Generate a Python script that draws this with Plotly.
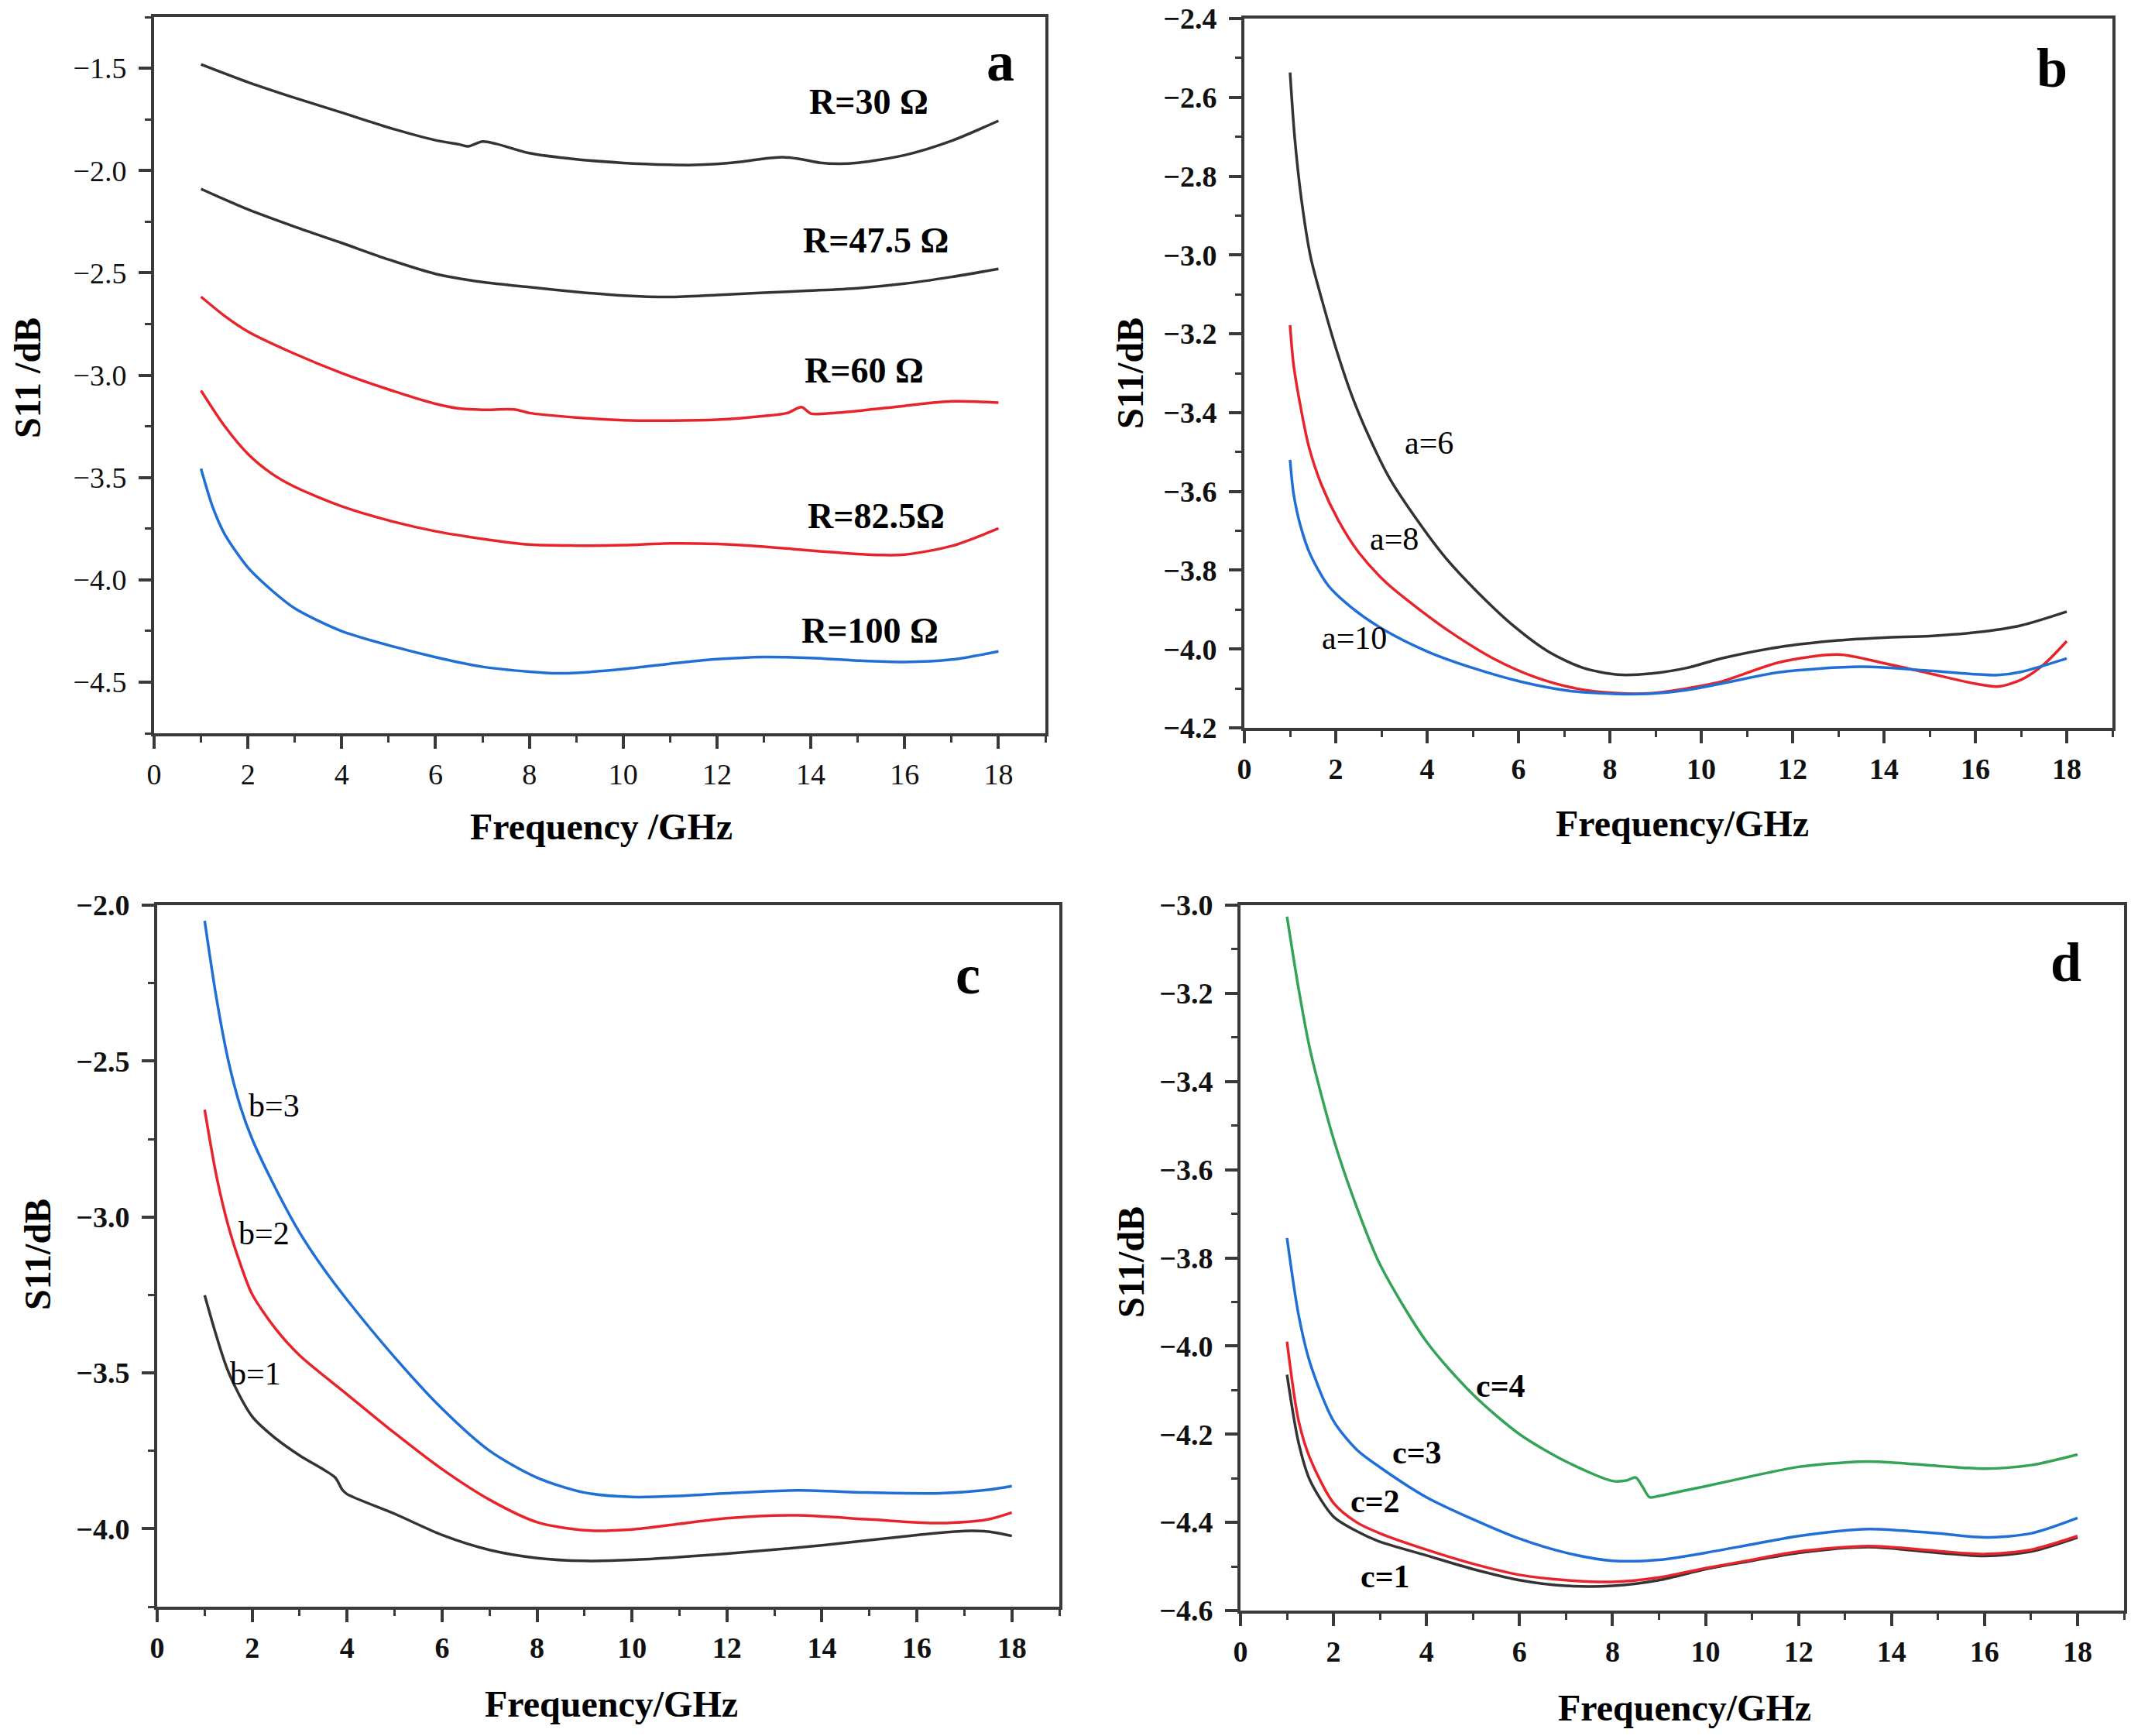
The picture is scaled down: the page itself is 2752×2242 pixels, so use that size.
import plotly.graph_objects as go

# ---------------- Panel a data ----------------
r30_x = [1, 2, 3, 4, 5, 6, 6.5, 6.7, 7.0, 7.3, 8, 9, 10, 11, 11.5, 12, 12.5, 13, 13.4, 13.8, 14.2, 14.6, 15, 16, 17, 18]
r30_y = [-1.481, -1.568, -1.645, -1.717, -1.79, -1.852, -1.872, -1.882, -1.858, -1.87, -1.915, -1.945, -1.963,
         -1.972, -1.973, -1.968, -1.958, -1.942, -1.935, -1.945, -1.962, -1.967, -1.962, -1.925, -1.855, -1.757]
r47_x = [1, 2, 3, 4, 5, 6, 7, 8, 9, 10, 11, 12, 13, 14, 15, 16, 17, 18]
r47_y = [-2.09, -2.19, -2.275, -2.354, -2.435, -2.505, -2.545, -2.57, -2.593, -2.611, -2.618, -2.608, -2.597,
         -2.587, -2.575, -2.553, -2.52, -2.481]
r60_x = [1, 1.5, 2, 3, 4, 5, 6, 6.5, 7, 7.7, 8, 9, 10, 11, 12, 13, 13.5, 13.8, 14.0, 14.3, 15, 16, 17, 18]
r60_y = [-2.617, -2.71, -2.787, -2.896, -2.99, -3.07, -3.14, -3.163, -3.169, -3.168, -3.185, -3.207, -3.22,
         -3.222, -3.218, -3.20, -3.185, -3.156, -3.188, -3.188, -3.175, -3.15, -3.128, -3.134]
r82_x = [1, 1.5, 2, 2.5, 3, 4, 5, 6, 7, 8, 9, 10, 11, 12, 13, 14, 15, 15.5, 16, 17, 18]
r82_y = [-3.075, -3.248, -3.385, -3.48, -3.546, -3.641, -3.71, -3.763, -3.80, -3.828, -3.833, -3.831, -3.822,
         -3.825, -3.838, -3.857, -3.874, -3.879, -3.877, -3.835, -3.749]
r100_x = [1, 1.25, 1.5, 2, 2.5, 3, 4, 5, 6, 7, 8, 8.6, 9, 10, 11, 12, 13, 14, 15, 16, 17, 18]
r100_y = [-3.457, -3.645, -3.775, -3.94, -4.05, -4.14, -4.251, -4.32, -4.378, -4.425, -4.449, -4.457, -4.455,
          -4.436, -4.41, -4.388, -4.377, -4.382, -4.395, -4.402, -4.39, -4.35]

# ---------------- Panel b data ----------------
a6_x = [1, 1.1, 1.25, 1.45, 1.7, 2.0, 2.36, 2.74, 3.19, 3.79, 4.4, 5.15, 5.91, 6.66, 7.42, 8.17, 8.92,
        9.68, 10.43, 11.7, 13, 14, 15, 16, 17, 18]
a6_y = [-2.537, -2.70, -2.86, -3.005, -3.115, -3.235, -3.359, -3.464, -3.569, -3.674, -3.768, -3.861,
        -3.943, -4.007, -4.048, -4.065, -4.062, -4.048, -4.024, -3.995, -3.978, -3.971, -3.967, -3.958, -3.94, -3.905]
a8_x = [1, 1.075, 1.225, 1.415, 1.68, 2.06, 2.51, 3.11, 3.79, 4.55, 5.45, 6.36, 7.26, 8.17, 8.92, 9.68, 10.43,
        11.7, 13, 14, 15, 16, 16.5, 17, 17.5, 18]
a8_y = [-3.178, -3.277, -3.382, -3.488, -3.581, -3.674, -3.756, -3.832, -3.896, -3.96, -4.024, -4.071, -4.10,
        -4.112, -4.112, -4.10, -4.083, -4.034, -4.014, -4.036, -4.062, -4.088, -4.095, -4.078, -4.039, -3.98]
a10_x = [1, 1.075, 1.225, 1.45, 1.83, 2.36, 3.11, 4.02, 5.0, 6.06, 7.11, 8.17, 8.92, 9.68, 10.43, 11.7, 13.5,
         15, 16, 16.5, 17, 18]
a10_y = [-3.52, -3.604, -3.686, -3.762, -3.838, -3.896, -3.955, -4.007, -4.048, -4.083, -4.106, -4.114, -4.113,
         -4.104, -4.088, -4.059, -4.045, -4.055, -4.064, -4.066, -4.058, -4.024]

# ---------------- Panel c data ----------------
b3_x = [1, 1.25, 1.5, 1.75, 2, 2.5, 3, 3.5, 4, 5, 6, 7, 8, 9, 10, 11, 12, 13.5, 15, 16.5, 17.5, 18]
b3_y = [-2.05, -2.30, -2.50, -2.645, -2.75, -2.91, -3.05, -3.165, -3.266, -3.45, -3.615, -3.75, -3.836, -3.884,
        -3.898, -3.895, -3.886, -3.877, -3.884, -3.886, -3.875, -3.863]
b2_x = [1, 1.25, 1.5, 1.75, 2, 2.5, 3, 4, 5, 6, 7, 8, 9, 10, 11, 12, 13.5, 15, 16.5, 17.5, 18]
b2_y = [-2.656, -2.87, -3.03, -3.15, -3.248, -3.36, -3.444, -3.569, -3.693, -3.809, -3.907, -3.979, -4.005,
        -4.002, -3.984, -3.966, -3.957, -3.97, -3.982, -3.97, -3.948]
b1_x = [1, 1.5, 2, 2.5, 3, 3.5, 3.75, 3.9, 4, 5, 6, 7, 8, 9, 10, 12, 14, 16, 17, 17.5, 18]
b1_y = [-3.251, -3.497, -3.64, -3.711, -3.765, -3.81, -3.836, -3.875, -3.889, -3.952, -4.02, -4.068, -4.094,
        -4.103, -4.1, -4.08, -4.053, -4.02, -4.007, -4.009, -4.023]

# ---------------- Panel d data ----------------
c4_x = [1, 1.25, 1.5, 2, 2.5, 3, 4, 5, 6, 7, 8, 8.3, 8.5, 8.65, 8.8, 9, 10, 11, 12, 13, 13.5, 14, 15, 16, 17, 18]
c4_y = [-3.026, -3.19, -3.33, -3.53, -3.685, -3.815, -3.99, -4.11, -4.2, -4.262, -4.306, -4.305, -4.298, -4.32,
        -4.343, -4.34, -4.318, -4.295, -4.274, -4.264, -4.262, -4.264, -4.272, -4.278, -4.27, -4.246]
c3_x = [1, 1.25, 1.5, 2, 2.5, 3, 4, 5, 6, 7, 8, 9, 10, 11, 12, 13.5, 15, 16, 17, 18]
c3_y = [-3.755, -3.93, -4.04, -4.17, -4.235, -4.275, -4.343, -4.393, -4.437, -4.469, -4.487, -4.485, -4.469,
        -4.45, -4.431, -4.415, -4.425, -4.434, -4.425, -4.39]
c2_x = [1, 1.25, 1.5, 2, 2.5, 3, 4, 5, 6, 7, 8, 9, 10, 11, 12, 13.5, 15, 16, 17, 18]
c2_y = [-3.99, -4.17, -4.256, -4.356, -4.40, -4.425, -4.462, -4.494, -4.519, -4.531, -4.535, -4.525, -4.504,
        -4.485, -4.466, -4.454, -4.465, -4.472, -4.462, -4.431]
c1_x = [1, 1.25, 1.5, 2, 2.5, 3, 4, 5, 6, 7, 8, 9, 10, 11, 12, 13.5, 15, 16, 17, 18]
c1_y = [-4.065, -4.22, -4.306, -4.387, -4.42, -4.444, -4.475, -4.506, -4.531, -4.544, -4.544, -4.531, -4.506,
        -4.487, -4.469, -4.456, -4.469, -4.476, -4.466, -4.434]

x_ticks = [0, 2, 4, 6, 8, 10, 12, 14, 16, 18]

BLACK = "#333333"
RED = "#e8242b"
BLUE = "#1f6fd6"
GREEN = "#33a456"
AXC = "#3a3a3a"
FONT = "Liberation Serif"
W, H = 2752, 2242

fig = go.Figure()


def add(x, y, color, k):
    fig.add_trace(go.Scatter(x=x, y=y, mode="lines", line=dict(color=color, width=3.5, shape="spline", smoothing=0.8),
                             xaxis="x" + k, yaxis="y" + k, showlegend=False, hoverinfo="skip"))


add(r30_x, r30_y, BLACK, "")
add(r47_x, r47_y, BLACK, "")
add(r60_x, r60_y, RED, "")
add(r82_x, r82_y, RED, "")
add(r100_x, r100_y, BLUE, "")
add(a6_x, a6_y, BLACK, "2")
add(a8_x, a8_y, RED, "2")
add(a10_x, a10_y, BLUE, "2")
add(b1_x, b1_y, BLACK, "3")
add(b2_x, b2_y, RED, "3")
add(b3_x, b3_y, BLUE, "3")
add(c1_x, c1_y, BLACK, "4")
add(c2_x, c2_y, RED, "4")
add(c3_x, c3_y, BLUE, "4")
add(c4_x, c4_y, GREEN, "4")


def px_dom(a, b, total, flip=False):
    if flip:
        return [1 - b / total, 1 - a / total]
    return [a / total, b / total]


def xaxis(dom, anchor, bold):
    return dict(domain=dom, anchor=anchor, range=[0, 19], tickvals=x_ticks, showgrid=False, zeroline=False,
                automargin=False,
                showline=True, linecolor=AXC, linewidth=4, mirror=True,
                ticks="outside", ticklen=16, tickwidth=4, tickcolor=AXC,
                minor=dict(dtick=1, tick0=0, ticks="outside", ticklen=8, tickwidth=3, tickcolor=AXC),
                tickfont=dict(family=FONT, size=38, color="#111", weight="bold" if bold else "normal"),
                ticklabelstandoff=0)


def yaxis(dom, anchor, rng, dtick, mdtick, bold):
    return dict(domain=dom, anchor=anchor, range=rng, dtick=dtick, tick0=0, tickformat=".1f",
                showgrid=False, zeroline=False, automargin=False,
                showline=True, linecolor=AXC, linewidth=4, mirror=True,
                ticks="outside", ticklen=16, tickwidth=4, tickcolor=AXC,
                minor=dict(dtick=mdtick, tick0=0, ticks="outside", ticklen=8, tickwidth=3, tickcolor=AXC),
                tickfont=dict(family=FONT, size=38, color="#111", weight="bold" if bold else "normal"),
                ticklabelstandoff=8)


fig.update_layout(
    template="none",
    width=W, height=H, autosize=False, margin=dict(l=0, r=0, t=0, b=0, pad=0),
    paper_bgcolor="white", plot_bgcolor="white",
    xaxis=xaxis(px_dom(199, 1350, W), "y", False),
    yaxis=yaxis(px_dom(22, 947, H, True), "x", [-4.75, -1.25], 0.5, 0.25, False),
    xaxis2=xaxis(px_dom(1607, 2728, W), "y2", True),
    yaxis2=yaxis(px_dom(24, 940, H, True), "x2", [-4.2, -2.4], 0.2, 0.1, True),
    xaxis3=xaxis(px_dom(203, 1368, W), "y3", True),
    yaxis3=yaxis(px_dom(1169, 2075, H, True), "x3", [-4.25, -2.0], 0.5, 0.25, True),
    xaxis4=xaxis(px_dom(1602, 2743, W), "y4", True),
    yaxis4=yaxis(px_dom(1169, 2080, H, True), "x4", [-4.6, -3.0], 0.2, 0.1, True),
)

ann = []


def txt(x, y, s, k, size, bold=True):
    ann.append(dict(x=x, y=y, xref="x" + k, yref="y" + k, text=s, showarrow=False,
                    font=dict(family=FONT, size=size, color="black", weight="bold" if bold else "normal"),
                    xanchor="center", yanchor="middle"))


def ptxt(xp, yp, s, size, angle=0):
    ann.append(dict(x=xp / W, y=1 - yp / H, xref="paper", yref="paper", text=s, showarrow=False, textangle=angle,
                    font=dict(family=FONT, size=size, color="black", weight="bold"),
                    xanchor="center", yanchor="middle"))


# panel letters
txt(18.04, -1.47, "a", "", 72)
txt(17.68, -2.526, "b", "2", 72)
txt(17.08, -2.223, "c", "3", 72)
txt(17.75, -3.13, "d", "4", 72)

# panel a labels
txt(15.23, -1.663, "R=30 Ω", "", 46)
txt(15.38, -2.34, "R=47.5 Ω", "", 46)
txt(15.13, -2.979, "R=60 Ω", "", 46)
txt(15.39, -3.689, "R=82.5Ω", "", 46)
txt(15.26, -4.25, "R=100 Ω", "", 46)

# panel b labels
txt(4.04, -3.476, "a=6", "2", 42, False)
txt(3.28, -3.721, "a=8", "2", 42, False)
txt(2.40, -3.972, "a=10", "2", 42, False)

# panel c labels
txt(2.46, -2.642, "b=3", "3", 42, False)
txt(2.25, -3.053, "b=2", "3", 42, False)
txt(2.07, -3.502, "b=1", "3", 42, False)

# panel d labels
txt(5.6, -4.091, "c=4", "4", 42)
txt(3.79, -4.242, "c=3", "4", 42)
txt(2.9, -4.352, "c=2", "4", 42)
txt(3.12, -4.523, "c=1", "4", 42)

# axis titles
ptxt(777, 1067, "Frequency /GHz", 48)
ptxt(2172, 1063, "Frequency/GHz", 48)
ptxt(789, 2200, "Frequency/GHz", 48)
ptxt(2175, 2205, "Frequency/GHz", 48)
ptxt(36, 488, "S11 /dB", 48, -90)
ptxt(1460, 482, "S11/dB", 48, -90)
ptxt(48, 1620, "S11/dB", 48, -90)
ptxt(1460, 1630, "S11/dB", 48, -90)

fig.update_layout(annotations=ann)

fig.write_html("out.html")
